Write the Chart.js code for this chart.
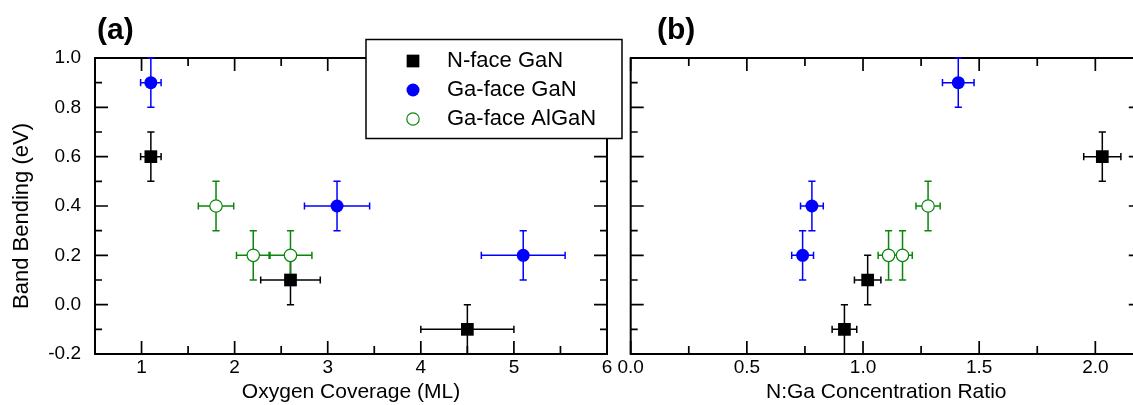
<!DOCTYPE html>
<html>
<head>
<meta charset="utf-8">
<script src="https://cdn.jsdelivr.net/npm/chart.js@4.4.0/dist/chart.umd.min.js"></script>
<style>
  html, body { margin: 0; padding: 0; background: #fff; overflow: hidden; }
  #wrap { position: relative; width: 1133px; height: 405px; overflow: hidden; }
  #chartB { position: absolute; left: 600px; top: 0; width: 560px; height: 405px; }
  #chartA { position: absolute; left: 0; top: 0; width: 640px; height: 405px; z-index: 2; }
</style>
</head>
<body>
<div id="wrap">
  <canvas id="chartB" width="560" height="405"></canvas>
  <canvas id="chartA" width="640" height="405"></canvas>
</div>
<script>
const seriesNames = ['N-face GaN', 'Ga-face GaN', 'Ga-face AlGaN'];
const seriesColors = ['#000000', '#0000ff', '#0a870a'];

// band bending (eV), same values in both panels
const bendNFace = [0.6, 0.1, -0.1];
const bendGaFace = [0.9, 0.4, 0.2];
const bendAlGaN = [0.4, 0.2, 0.2];
const bendErr = [0.1, 0.1, 0.1];

// (a) oxygen coverage (ML)
const covNFace = [1.1, 2.6, 4.5];
const covNFaceErr = [0.11, 0.32, 0.5];
const covGaFace = [1.1, 3.1, 5.1];
const covGaFaceErr = [0.11, 0.35, 0.45];
const covAlGaN = [1.8, 2.2, 2.6];
const covAlGaNErr = [0.19, 0.18, 0.23];

// (b) N:Ga concentration ratio
const ratioNFace = [2.03, 1.02, 0.92];
const ratioNFaceErr = [0.08, 0.057, 0.053];
const ratioGaFace = [1.41, 0.78, 0.74];
const ratioGaFaceErr = [0.068, 0.049, 0.047];
const ratioAlGaN = [1.28, 1.11, 1.17];
const ratioAlGaNErr = [0.052, 0.045, 0.042];

// ticks
const yTicks = [-0.2, 0, 0.2, 0.4, 0.6, 0.8, 1.0];
const yMinor = [-0.1, 0.1, 0.3, 0.5, 0.7, 0.9];
const xTicksA = [1, 2, 3, 4, 5, 6];
const xMinorA = [0.5, 1.5, 2.5, 3.5, 4.5, 5.5];
const xTicksB = [0, 0.5, 1.0, 1.5, 2.0];
const xMinorB = [0.25, 0.75, 1.25, 1.75];

Chart.defaults.font.family = '"Liberation Sans", Arial, Helvetica, sans-serif';
Chart.defaults.color = '#000';

function makeSet(i, xs, xErr, ys) {
    const set = {
        label: seriesNames[i],
        data: xs.map((x, k) => ({ x: x, y: ys[k], xErr: xErr[k], yErr: bendErr[k] })),
        errColor: seriesColors[i],
        pointHoverRadius: 0
    };
    if (i === 0) {
        set.pointStyle = 'rect';
        set.pointRadius = 9;
        set.backgroundColor = seriesColors[i];
        set.borderColor = seriesColors[i];
        set.borderWidth = 0;
    } else if (i === 1) {
        set.pointStyle = 'circle';
        set.pointRadius = 6.5;
        set.backgroundColor = seriesColors[i];
        set.borderColor = seriesColors[i];
        set.borderWidth = 0;
    } else {
        set.pointStyle = 'circle';
        set.pointRadius = 6.2;
        set.backgroundColor = '#ffffff';
        set.borderColor = seriesColors[i];
        set.borderWidth = 1.2;
    }
    return set;
}

// box with inward ticks on all four sides
const frameTicks = {
    id: 'frameTicks',
    beforeDatasetsDraw(chart, args, o) {
        const ctx = chart.ctx, a = chart.chartArea;
        const x = chart.scales.x, y = chart.scales.y;
        ctx.save();
        ctx.strokeStyle = '#000';
        ctx.lineWidth = 1.7;
        ctx.beginPath();
        function xt(vals, len) {
            vals.forEach(v => {
                const p = x.getPixelForValue(v);
                ctx.moveTo(p, a.bottom); ctx.lineTo(p, a.bottom - len);
                ctx.moveTo(p, a.top); ctx.lineTo(p, a.top + len);
            });
        }
        function yt(vals, len) {
            vals.forEach(v => {
                const p = y.getPixelForValue(v);
                ctx.moveTo(a.left, p); ctx.lineTo(a.left + len, p);
                ctx.moveTo(a.right, p); ctx.lineTo(a.right - len, p);
            });
        }
        xt(o.xMajor, 13); xt(o.xMinor, 8);
        yt(yTicks, 13); yt(yMinor, 7);
        ctx.stroke();
        ctx.lineWidth = 2;
        ctx.strokeRect(a.left, a.top, a.right - a.left, a.bottom - a.top);

        // panel tag
        ctx.fillStyle = '#000';
        ctx.font = 'bold 30px "Liberation Sans", Arial, sans-serif';
        ctx.textBaseline = 'middle';
        ctx.textAlign = 'left';
        ctx.fillText(o.tag, o.tagX, 31);

        if (o.yTitle) {
            ctx.font = '22px "Liberation Sans", Arial, sans-serif';
            ctx.textAlign = 'center';
            ctx.translate(22, 216);
            ctx.rotate(-Math.PI / 2);
            ctx.fillText(o.yTitle, 0, 0);
        }
        ctx.restore();
    }
};

const errorBars = {
    id: 'errorBars',
    beforeDatasetsDraw(chart) {
        const ctx = chart.ctx;
        const xs = chart.scales.x, ys = chart.scales.y;
        const cap = 3.6;
        ctx.save();
        ctx.lineWidth = 1.5;
        chart.data.datasets.forEach(ds => {
            ctx.strokeStyle = ds.errColor;
            ctx.beginPath();
            ds.data.forEach(p => {
                const px = xs.getPixelForValue(p.x), py = ys.getPixelForValue(p.y);
                const x0 = xs.getPixelForValue(p.x - p.xErr), x1 = xs.getPixelForValue(p.x + p.xErr);
                const y0 = ys.getPixelForValue(p.y - p.yErr), y1 = ys.getPixelForValue(p.y + p.yErr);
                ctx.moveTo(x0, py); ctx.lineTo(x1, py);
                ctx.moveTo(x0, py - cap); ctx.lineTo(x0, py + cap);
                ctx.moveTo(x1, py - cap); ctx.lineTo(x1, py + cap);
                ctx.moveTo(px, y0); ctx.lineTo(px, y1);
                ctx.moveTo(px - cap, y0); ctx.lineTo(px + cap, y0);
                ctx.moveTo(px - cap, y1); ctx.lineTo(px + cap, y1);
            });
            ctx.stroke();
        });
        ctx.restore();
    }
};

const boxLegend = {
    id: 'boxLegend',
    afterDraw(chart) {
        const ctx = chart.ctx;
        ctx.save();
        ctx.fillStyle = '#fff';
        ctx.strokeStyle = '#000';
        ctx.lineWidth = 1.5;
        ctx.fillRect(366, 39.5, 256, 99);
        ctx.strokeRect(366, 39.5, 256, 99);
        ctx.font = '22px "Liberation Sans", Arial, sans-serif';
        ctx.textBaseline = 'middle';
        ctx.textAlign = 'left';
        chart.data.datasets.forEach((ds, i) => {
            const y = 61 + i * 29;
            ctx.fillStyle = ds.backgroundColor;
            ctx.strokeStyle = ds.borderColor;
            ctx.lineWidth = ds.borderWidth;
            Chart.helpers.drawPoint(ctx, {
                pointStyle: ds.pointStyle, radius: ds.pointRadius,
                borderWidth: ds.borderWidth, rotation: 0
            }, 413, y);
            ctx.fillStyle = '#000';
            ctx.fillText(ds.label, 447, y);
        });
        ctx.restore();
    }
};

function yScale(show) {
    return {
        type: 'linear', min: -0.2, max: 1.0,
        display: show,
        grid: { display: false, drawTicks: false },
        border: { display: false },
        ticks: { font: { size: 19 }, padding: 14, callback: v => v.toFixed(1) },
        afterBuildTicks: s => { s.ticks = yTicks.map(v => ({ value: v })); },
        afterFit: s => { s.width = show ? 95 : 0; }
    };
}

function xScale(min, max, ticks, fmt, title) {
    return {
        type: 'linear', min: min, max: max,
        grid: { display: false, drawTicks: false },
        border: { display: false },
        ticks: { font: { size: 19 }, padding: 2, maxRotation: 0, autoSkip: false, callback: fmt },
        afterBuildTicks: s => { s.ticks = ticks.map(v => ({ value: v })); },
        title: { display: true, text: title, font: { size: 21 }, padding: 0 },
        afterFit: s => { s.height = 51; }
    };
}

new Chart(document.getElementById('chartA'), {
    type: 'scatter',
    data: {
        datasets: [
            makeSet(0, covNFace, covNFaceErr, bendNFace),
            makeSet(1, covGaFace, covGaFaceErr, bendGaFace),
            makeSet(2, covAlGaN, covAlGaNErr, bendAlGaN)
        ]
    },
    options: {
        responsive: false,
        animation: false,
        events: [],
        layout: { padding: { left: 0, top: 58, right: 33, bottom: 0 } },
        scales: {
            x: xScale(0.5, 6, xTicksA, v => String(v), 'Oxygen Coverage (ML)'),
            y: yScale(true)
        },
        plugins: {
            legend: { display: false },
            tooltip: { enabled: false },
            frameTicks: { xMajor: xTicksA, xMinor: xMinorA, tag: '(a)', tagX: 97, yTitle: 'Band Bending (eV)' }
        }
    },
    plugins: [frameTicks, errorBars, boxLegend]
});

new Chart(document.getElementById('chartB'), {
    type: 'scatter',
    data: {
        datasets: [
            makeSet(0, ratioNFace, ratioNFaceErr, bendNFace),
            makeSet(1, ratioGaFace, ratioGaFaceErr, bendGaFace),
            makeSet(2, ratioAlGaN, ratioAlGaNErr, bendAlGaN)
        ]
    },
    options: {
        responsive: false,
        animation: false,
        events: [],
        layout: { padding: { left: 30.7, top: 58, right: 18.2, bottom: 0 } },
        scales: {
            x: xScale(0, 2.2, xTicksB, v => v.toFixed(1), 'N:Ga Concentration Ratio'),
            y: yScale(false)
        },
        plugins: {
            legend: { display: false },
            tooltip: { enabled: false },
            frameTicks: { xMajor: xTicksB, xMinor: xMinorB, tag: '(b)', tagX: 57 }
        }
    },
    plugins: [frameTicks, errorBars]
});
</script>
</body>
</html>
